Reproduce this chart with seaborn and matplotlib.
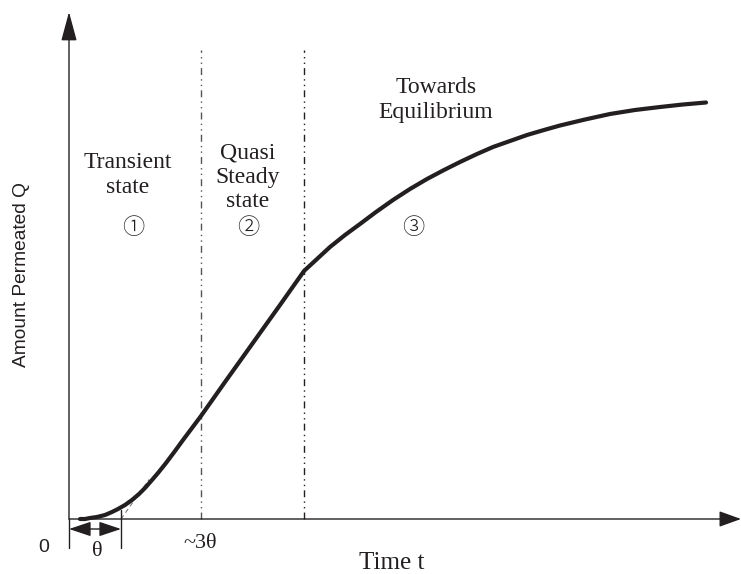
import matplotlib
matplotlib.use("Agg")
import matplotlib.pyplot as plt
import seaborn as sns
import pandas as pd

# ---- data (t and Q in arbitrary units) ----
t_vals = [1.1, 1.6, 2.1, 2.8, 3.6, 4.3, 4.9, 5.6, 6.3, 7.0, 7.6, 8.3, 8.9, 9.7,
          10.6, 11.4, 12.3, 13.2, 15.6, 18.1, 21.1, 23.5,
          24.8, 26.1, 27.6, 29.1, 30.7, 32.4, 34.1, 35.8, 37.5, 39.1, 40.8,
          42.4, 44.1, 45.8, 47.5, 49.1, 51.6, 54.1, 56.6, 59.1, 61.4, 63.7]
q_vals = [0.0, 0.0, 0.1, 0.2, 0.4, 0.7, 1.0, 1.4, 1.9, 2.5, 3.1, 3.9, 4.6, 5.6,
          6.8, 7.9, 9.1, 10.3, 13.7, 17.2, 21.4, 24.8,
          26.0, 27.2, 28.4, 29.5, 30.7, 31.9, 33.0, 34.0, 34.9, 35.7, 36.5,
          37.2, 37.8, 38.4, 38.9, 39.35, 39.95, 40.5, 40.9, 41.2, 41.45, 41.65]
theta = 5.2
region_bounds = [13.2, 23.5]
region_labels = ["Transient\nstate", "Quasi\nSteady\nstate", "Towards\nEquilibrium"]
region_numbers = ["①", "②", "③"]
tick_labels = ["0", "θ", "~3θ"]
x_label = "Time t"
y_label = "Amount Permeated Q"

df = pd.DataFrame({"t": t_vals, "Q": q_vals})

sns.set_theme(style="white")
fig = plt.figure(figsize=(7.41, 5.74), dpi=100)
ax = fig.add_axes([0, 0, 1, 1])
ax.set_xlim(-6.9, 67.2)
ax.set_ylim(-5.5, 51.9)
ax.axis("off")

ink = "#231f20"
serif = ["Liberation Serif", "Noto Sans CJK JP", "DejaVu Sans"]
circ = ["Noto Sans CJK JP", "DejaVu Sans"]

# tangent (time-lag) extrapolation
ax.plot([theta, 8.0], [0, (8.0 - theta) * 1.41], color="#777777", lw=0.8,
        ls=(0, (4, 3)), zorder=2)

# curve
sns.lineplot(data=df, x="t", y="Q", ax=ax, color=ink, lw=3.0, sort=False,
             zorder=3, estimator=None, solid_joinstyle="round",
             solid_capstyle="round")
ax.set_xlabel("")
ax.set_ylabel("")
ax.axis("off")

# vertical region boundaries
ax.vlines(region_bounds[0], 0, 46.9, color="#555555", lw=1.0,
          linestyles=[(0, (5, 3, 1, 3, 1, 3))], zorder=1)
ax.vlines(region_bounds[1], 0, 46.9, color=ink, lw=1.0,
          linestyles=[(0, (5, 3, 1, 3, 1, 3))], zorder=1)

# axes with arrows
ax.annotate("", xy=(67.2, 0), xytext=(0, 0),
            arrowprops=dict(arrowstyle="-|>,head_length=0.75,head_width=0.27",
                            mutation_scale=18, lw=1.0, color=ink,
                            shrinkA=0, shrinkB=0))
ax.annotate("", xy=(0, 50.7), xytext=(0, 0),
            arrowprops=dict(arrowstyle="-|>,head_length=1.0,head_width=0.27",
                            mutation_scale=18, lw=1.0, color=ink,
                            shrinkA=0, shrinkB=0))
ax.plot([0, 0], [-2.9, 0], color=ink, lw=1.0)
ax.plot([theta, theta], [-2.9, 0.9], color=ink, lw=1.0)
ax.annotate("", xy=(0, -1.0), xytext=(theta, -1.0),
            arrowprops=dict(arrowstyle="<|-|>,head_length=0.9,head_width=0.3",
                            mutation_scale=15, lw=1.0, color=ink,
                            shrinkA=0, shrinkB=0))

# tick labels
ax.text(-2.5, -2.9, tick_labels[0], ha="center", va="center", fontsize=14,
        color=ink, family=["Liberation Sans"])
ax.text(2.8, -3.2, tick_labels[1], ha="center", va="center", fontsize=16,
        color=ink, family=serif)
ax.text(13.1, -2.4, tick_labels[2], ha="center", va="center", fontsize=16,
        color=ink, family=serif)

# axis labels
ax.text(32.3, -4.4, x_label, ha="center", va="center", fontsize=18,
        color=ink, family=serif)
ax.text(-4.7, 24.4, y_label, ha="center", va="center", rotation=90,
        fontsize=13.8, color=ink, family=["Liberation Sans"])

# region labels
label_pos = [(5.9, 34.4), (17.9, 34.2), (36.7, 41.9)]
num_pos = [(6.4, 29.1), (17.9, 29.1), (34.4, 29.1)]
for (x, y), s in zip(label_pos, region_labels):
    ax.text(x, y, s, ha="center", va="center", fontsize=17, color=ink,
            family=serif, linespacing=1.2)
for (x, y), s in zip(num_pos, region_numbers):
    ax.text(x, y, s, ha="center", va="center", fontsize=16, color=ink,
            family=circ, fontweight="light")

fig.savefig("out.png", dpi=100)
